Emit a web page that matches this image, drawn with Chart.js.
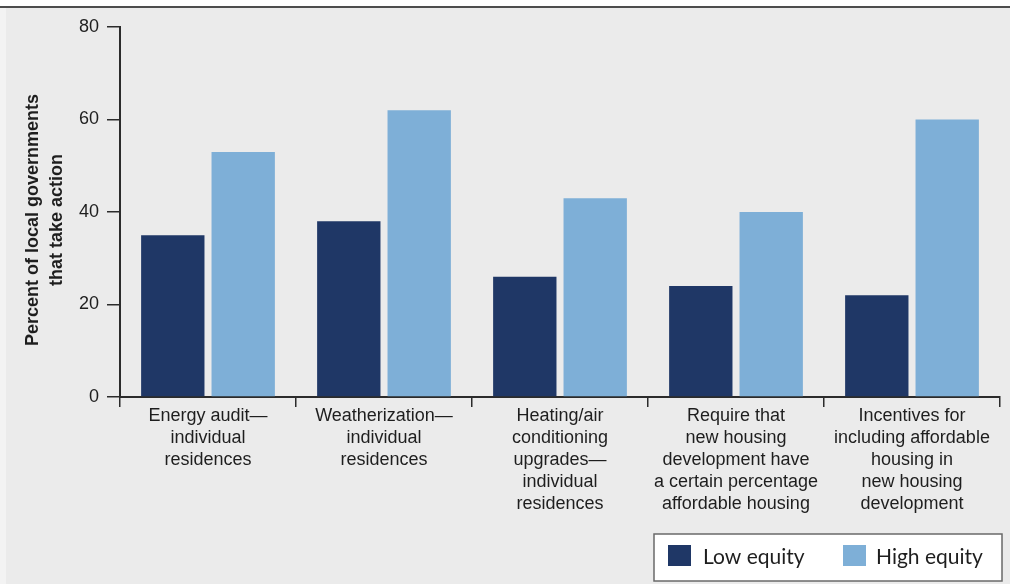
<!DOCTYPE html>
<html>
<head>
<meta charset="utf-8">
<script src="https://cdn.jsdelivr.net/npm/chart.js@4.4.1/dist/chart.umd.min.js"></script>
<style>
  html, body { margin: 0; padding: 0; background: #ffffff; }
  canvas { display: block; }
</style>
</head>
<body>
<canvas id="chart" width="1010" height="584"></canvas>
<script>
// Share of local governments taking each housing action, by equity group
const categories = [
  ["Energy audit\u2014", "individual", "residences"],
  ["Weatherization\u2014", "individual", "residences"],
  ["Heating/air", "conditioning", "upgrades\u2014", "individual", "residences"],
  ["Require that", "new housing", "development have", "a certain percentage", "affordable housing"],
  ["Incentives for", "including affordable", "housing in", "new housing", "development"]
];
const seriesNames = ["Low equity", "High equity"];
const lowEquity = [35, 38, 26, 24, 22];
const highEquity = [53, 62, 43, 40, 60];
const yTickValues = [0, 20, 40, 60, 80];
const yTitle = ["Percent of local governments", "that take action"];

const LOW_COLOR = "#1f3766";
const HIGH_COLOR = "#7eafd7";
const AXIS_COLOR = "#2b2b2b";
const TEXT_COLOR = "#1e1e1e";
const FONT = "'Liberation Sans', Arial, Helvetica, sans-serif";

// Page backdrop: white strip on top, rule, grey panel
const backdrop = {
  id: "backdrop",
  beforeDraw(chart) {
    const { ctx, width, height } = chart;
    ctx.save();
    ctx.fillStyle = "#ffffff";
    ctx.fillRect(0, 0, width, height);
    ctx.fillStyle = "#f3f3f3";
    ctx.fillRect(0, 8, 6, height - 8);
    ctx.fillStyle = "#ebebeb";
    ctx.fillRect(6, 8, width - 6, height - 8);
    ctx.fillStyle = "#4d4d4d";
    ctx.fillRect(0, 6, width, 2);
    ctx.restore();
  }
};

// Rotated two-line title beside the value axis
const axisTitle = {
  id: "axisTitle",
  afterDraw(chart) {
    const { ctx } = chart;
    ctx.save();
    ctx.translate(33, 220);
    ctx.rotate(-Math.PI / 2);
    ctx.font = "bold 18px " + FONT;
    ctx.fillStyle = TEXT_COLOR;
    ctx.textAlign = "center";
    ctx.textBaseline = "middle";
    yTitle.forEach((line, i) => ctx.fillText(line, 0, i * 24));
    ctx.restore();
  }
};

// Boxed legend in the lower right corner
const boxLegend = {
  id: "boxLegend",
  afterDraw(chart) {
    const { ctx } = chart;
    const box = { x: 654, y: 534, w: 348, h: 47 };
    ctx.save();
    ctx.fillStyle = "#ffffff";
    ctx.fillRect(box.x, box.y, box.w, box.h);
    ctx.strokeStyle = "#6a6a6a";
    ctx.lineWidth = 1.5;
    ctx.strokeRect(box.x, box.y, box.w, box.h);
    const items = [
      { sx: 668, tx: 703 },
      { sx: 843, tx: 876 }
    ];
    ctx.font = "21px Lato, 'Open Sans', sans-serif";
    ctx.textBaseline = "middle";
    ctx.textAlign = "left";
    chart.data.datasets.forEach((ds, i) => {
      const it = items[i];
      ctx.fillStyle = ds.backgroundColor;
      ctx.fillRect(it.sx, 545, 23, 21);
      ctx.fillStyle = TEXT_COLOR;
      ctx.fillText(ds.label, it.tx, 557);
    });
    ctx.restore();
  }
};

new Chart(document.getElementById("chart"), {
  type: "bar",
  data: {
    labels: categories,
    datasets: [
      { label: seriesNames[0], data: lowEquity, backgroundColor: LOW_COLOR },
      { label: seriesNames[1], data: highEquity, backgroundColor: HIGH_COLOR }
    ]
  },
  options: {
    responsive: false,
    animation: false,
    events: [],
    layout: { padding: { top: 27, right: 10, left: 0, bottom: 0 } },
    datasets: { bar: { categoryPercentage: 0.8, barPercentage: 0.9 } },
    plugins: {
      legend: { display: false },
      tooltip: { enabled: false }
    },
    scales: {
      x: {
        type: "category",
        offset: true,
        grid: {
          offset: true,
          drawOnChartArea: false,
          drawTicks: true,
          tickLength: 10,
          color: AXIS_COLOR,
          lineWidth: 1.5
        },
        border: { display: true, color: AXIS_COLOR, width: 2 },
        ticks: {
          color: TEXT_COLOR,
          font: { family: FONT, size: 18, lineHeight: 1.22 },
          padding: -2,
          maxRotation: 0,
          minRotation: 0,
          autoSkip: false
        },
        afterFit(scale) { scale.height = 187; }
      },
      y: {
        min: 0,
        max: 80,
        afterBuildTicks(scale) {
          scale.ticks = yTickValues.map(v => ({ value: v }));
        },
        grid: {
          drawOnChartArea: false,
          drawTicks: true,
          tickLength: 13,
          color: AXIS_COLOR,
          lineWidth: 1.5
        },
        border: { display: true, color: AXIS_COLOR, width: 2 },
        ticks: {
          color: TEXT_COLOR,
          font: { family: FONT, size: 18 },
          padding: 8
        },
        afterFit(scale) { scale.width = 120; }
      }
    }
  },
  plugins: [backdrop, axisTitle, boxLegend]
});
</script>
</body>
</html>
